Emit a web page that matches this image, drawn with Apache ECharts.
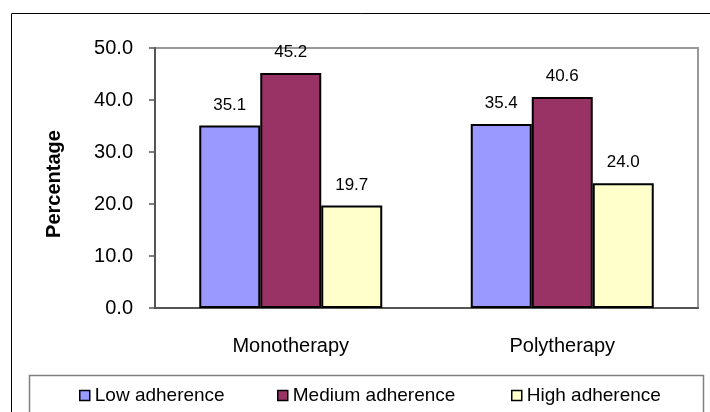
<!DOCTYPE html>
<html>
<head>
<meta charset="utf-8">
<script src="https://cdn.jsdelivr.net/npm/echarts@6/dist/echarts.min.js"></script>
<style>
  html, body { margin: 0; padding: 0; background: #fff; }
  #chart { width: 710px; height: 412px; }
</style>
</head>
<body>
<div id="chart"></div>
<script>
// Adherence levels by treatment type
const categories = ['Monotherapy', 'Polytherapy'];
const lowAdherence = [35.1, 35.4];
const mediumAdherence = [45.2, 40.6];
const highAdherence = [19.7, 24.0];
const yTicks = [0, 10, 20, 30, 40, 50];

const FONT = '"Liberation Sans", Arial, sans-serif';

const chart = echarts.init(document.getElementById('chart'), null, { renderer: 'canvas' });

function barSeries(name, data, color) {
  return {
    name: name,
    type: 'bar',
    data: data,
    barGap: '0%',
    barCategoryGap: '32.6%',
    itemStyle: { color: color, borderColor: '#000', borderWidth: 2 },
    label: {
      show: true,
      position: 'top',
      distance: 12,
      color: '#000',
      fontFamily: FONT,
      fontSize: 17,
      formatter: p => p.value.toFixed(1)
    },
    emphasis: { disabled: true }
  };
}

function legendAt(name, left) {
  return {
    data: [name],
    left: left,
    top: 386,
    padding: 0,
    icon: 'rect',
    itemWidth: 10,
    itemHeight: 10,
    itemStyle: { borderColor: '#000', borderWidth: 1.5 },
    textStyle: { color: '#000', fontFamily: FONT, fontSize: 19 },
    selectedMode: false
  };
}

chart.setOption({
  animation: false,
  backgroundColor: '#fff',
  grid: {
    left: 155, right: 12, top: 48, bottom: 104,
    show: true, borderColor: '#999', borderWidth: 2
  },
  graphic: [
    {
      type: 'rect',
      shape: { x: 11.5, y: 13.5, width: 720, height: 420 },
      style: { fill: 'none', stroke: '#000', lineWidth: 1 },
      z: -1
    },
    {
      type: 'rect',
      shape: { x: 29.5, y: 375.5, width: 674, height: 60 },
      style: { fill: 'none', stroke: '#808080', lineWidth: 1.5 },
      z: -1
    },
    {
      type: 'text',
      x: 54, y: 184,
      rotation: Math.PI / 2,
      style: {
        text: 'Percentage',
        fill: '#000',
        font: 'bold 20px ' + FONT,
        align: 'center',
        verticalAlign: 'middle'
      }
    }
  ],
  legend: [
    legendAt('Low adherence', 79),
    legendAt('Medium adherence', 277),
    legendAt('High adherence', 511)
  ],
  xAxis: {
    type: 'category',
    data: categories,
    axisLine: { show: true, lineStyle: { color: '#555', width: 2 } },
    axisTick: { show: false },
    axisLabel: { color: '#000', fontFamily: FONT, fontSize: 20, margin: 28 },
    splitLine: { show: false }
  },
  yAxis: {
    type: 'value',
    min: yTicks[0],
    max: yTicks[yTicks.length - 1],
    interval: yTicks[1] - yTicks[0],
    axisLine: { show: true, lineStyle: { color: '#555', width: 2 } },
    axisTick: { show: true, inside: false, length: 6, lineStyle: { color: '#555', width: 1.5 } },
    axisLabel: {
      color: '#000', fontFamily: FONT, fontSize: 20, margin: 22,
      formatter: v => v.toFixed(1)
    },
    splitLine: { show: false }
  },
  series: [
    barSeries('Low adherence', lowAdherence, '#9999FF'),
    barSeries('Medium adherence', mediumAdherence, '#993366'),
    barSeries('High adherence', highAdherence, '#FFFFCC')
  ]
});
</script>
</body>
</html>
